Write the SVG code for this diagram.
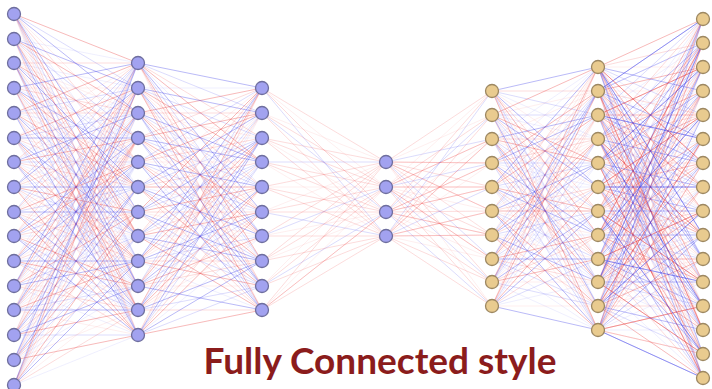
<svg xmlns="http://www.w3.org/2000/svg" width="712" height="389" viewBox="0 0 712 389">
<style>
.cn path{fill:none;stroke-width:1;stroke-linejoin:round}
.a{stroke:#e84040;stroke-opacity:.36}
.b{stroke:#4040e8;stroke-opacity:.36}
.c{stroke:#f05050;stroke-opacity:.2}
.d{stroke:#5050f0;stroke-opacity:.2}
.e{stroke:#f05050;stroke-opacity:.09}
.f{stroke:#5050f0;stroke-opacity:.09}
.p{fill:#a2a2f0;stroke:#6e6e9e;stroke-width:1.3}
.t{fill:#e9cb8f;stroke:#9d8862;stroke-width:1.3}
.title{font-family:Lato,"Liberation Sans",sans-serif;font-weight:700;font-size:37px;fill:#8b1c1c;text-anchor:middle}
</style>
<rect width="712" height="389" fill="#ffffff"/>
<g id="connectors" class="cn">
<path class="e" d="M138 138L14 14 138 335M138 310L14 39 138 212M138 212L14 63 138 113M138 88L14 88 138 286M138 261L14 113 138 162M138 162L14 138 138 63M138 335L14 162 138 236M138 113L14 187 138 310M138 236L14 212 138 138M138 63L14 236 138 261M138 187L14 261 138 88M138 286L14 286 138 187M138 335L14 310 138 236M138 212L14 335 138 113M138 113L14 360 138 310M138 286L14 385 138 187"/>
<path class="f" d="M138 187L14 14 138 310M138 63L14 39 138 187M138 261L14 63 138 88M138 138L14 88 138 261M138 310L14 113 138 138M138 212L14 138 138 335M138 88L14 162 138 212M138 162L14 187 138 286M138 286L14 212 138 113M138 113L14 236 138 236M138 236L14 261 138 63M138 335L14 286 138 162M138 88L14 310 138 212M138 261L14 335 138 88M138 162L14 360 138 286M138 335L14 385 138 162"/>
<path class="c" d="M138 162L14 14 138 286M138 335L14 39 138 162M138 236L14 63 138 63M138 113L14 88 138 236M138 286L14 113 138 113M138 187L14 138 138 310M138 63L14 162 138 187M138 138L14 187 138 261M138 261L14 212 138 88M138 88L14 236 138 212M138 212L14 261 138 335M138 310L14 286 138 138M138 63L14 310 138 187M138 236L14 335 138 63M138 138L14 360 138 261M138 310L14 385 138 138"/>
<path class="d" d="M138 88L14 14 138 261M138 261L14 39 138 138M138 162L14 63 138 335M138 335L14 88 138 212M138 212L14 113 138 88M138 113L14 138 138 286M138 286L14 162 138 162M138 63L14 187 138 236M138 187L14 212 138 63M138 310L14 236 138 187M138 138L14 261 138 310M138 236L14 286 138 113M138 286L14 310 138 162M138 162L14 335 138 335M138 63L14 360 138 236M138 236L14 385 138 113"/>
<path class="a" d="M138 63L14 14 138 236M138 236L14 39 138 113M138 138L14 63 138 310M138 310L14 88 138 187M138 187L14 113 138 63M138 88L14 138 138 261M138 261L14 162 138 138M138 335L14 187 138 212M138 162L14 212 138 335M138 286L14 236 138 162M138 113L14 261 138 286M138 212L14 286 138 88M138 261L14 310 138 138M138 138L14 335 138 310M138 335L14 360 138 212M138 212L14 385 138 88"/>
<path class="b" d="M138 113L14 14 138 212M138 286L14 39 138 88M138 187L14 63 138 286M138 63L14 88 138 162M138 236L14 113 138 335M138 138L14 138 138 236M138 310L14 162 138 113M138 88L14 187 138 187M138 212L14 212 138 310M138 335L14 236 138 138M138 162L14 261 138 261M138 261L14 286 138 63M138 310L14 310 138 113M138 187L14 335 138 286M138 88L14 360 138 187M138 261L14 385 138 63"/>
<path class="e" d="M138 63L262 310M138 88L262 212M138 113L262 138M138 138L262 261M138 162L262 162M138 187L262 88M138 212L262 236M138 236L262 113M138 261L262 187M138 286L262 286M138 310L262 236M138 335L262 113"/>
<path class="f" d="M138 63L262 187M138 88L262 88M138 113L262 261M138 138L262 138M138 162L262 286M138 187L262 212M138 212L262 113M138 236L262 236M138 261L262 310M138 286L262 162M138 310L262 113M138 335L262 236"/>
<path class="c" d="M262 286L138 63 262 138M262 187L138 88 262 286M262 113L138 113 262 212M262 236L138 138 262 88M262 138L138 162 262 236M262 310L138 187 262 162M262 212L138 212 262 310M262 88L138 236 262 187M262 162L138 261 262 261M262 261L138 286 262 113M262 212L138 310 262 310M262 88L138 335 262 187"/>
<path class="d" d="M262 113L138 63 262 236M262 261L138 88 262 138M262 187L138 113 262 310M262 310L138 138 262 187M262 212L138 162 262 88M262 138L138 187 262 261M262 286L138 212 262 162M262 162L138 236 262 286M262 236L138 261 262 113M262 88L138 286 262 212M262 286L138 310 262 162M262 162L138 335 262 286"/>
<path class="a" d="M262 261L138 63 262 162M262 162L138 88 262 310M262 88L138 113 262 236M262 212L138 138 262 113M262 113L138 162 262 261M262 286L138 187 262 187M262 187L138 212 262 88M262 310L138 236 262 212M262 138L138 261 262 286M262 236L138 286 262 138M262 187L138 310 262 88M262 310L138 335 262 212"/>
<path class="b" d="M262 88L138 63 262 212M262 236L138 88 262 113M262 162L138 113 262 286M262 286L138 138 262 162M262 187L138 162 262 310M262 113L138 187 262 236M262 261L138 212 262 138M262 138L138 236 262 261M262 212L138 261 262 88M262 310L138 286 262 187M262 261L138 310 262 138M262 138L138 335 262 261"/>
<path class="e" d="M262 88L386 187M262 113L386 162M262 138L386 212M262 162L386 236M262 187L386 187M262 212L386 162M262 236L386 212M262 261L386 212M262 286L386 162M262 310L386 187"/>
<path class="c" d="M386 162L262 88 386 212M386 187L262 113 386 236M386 162L262 138 386 236M386 187L262 162 386 212M386 162L262 187 386 236M386 187L262 212 386 212M386 162L262 236 386 236M386 162L262 261 386 187M386 187L262 286 386 236M386 162L262 310 386 212 262 310 386 236M262 138L386 187M262 187L386 212M262 261L386 236"/>
<path class="d" d="M262 88L386 236M262 113L386 212M262 162L386 162M262 212L386 236M262 236L386 187M262 286L386 212"/>
<path class="e" d="M492 115L386 162 492 235 386 162 492 306M492 91L386 187 492 211M492 139L386 212 492 259M492 163L386 236 492 259"/>
<path class="c" d="M492 91L386 162 492 163 386 162 492 211 386 162 492 282M492 115L386 187 492 139 386 187 492 187 386 187 492 259 386 187 492 306M492 91L386 212 492 163 386 212 492 187 386 212 492 235 386 212 492 282M492 115L386 236 492 139 386 236 492 211 386 236 492 235 386 236 492 306M386 162L492 187M386 187L492 235M386 212L492 211M386 236L492 282"/>
<path class="d" d="M492 139L386 162 492 259M492 163L386 187 492 282M492 115L386 212 492 306M492 91L386 236 492 187"/>
<path class="e" d="M598 259L492 91 598 163M598 91L492 115 598 282M598 187L492 139 598 91M598 306L492 163 598 211M598 139L492 187 598 330M598 235L492 211 598 139M598 67L492 235 598 259M598 163L492 259 598 67M598 282L492 282 598 187M598 115L492 306 598 306"/>
<path class="f" d="M598 306L492 91 598 139M598 139L492 115 598 259M598 235L492 139 598 67M598 67L492 163 598 187M598 187L492 187 598 306M598 282L492 211 598 115M598 115L492 235 598 235M598 211L492 259 598 330M598 330L492 282 598 163M598 163L492 306 598 282"/>
<path class="c" d="M598 211L492 91 598 91M598 330L492 115 598 211M598 139L492 139 598 306M598 259L492 163 598 139M598 91L492 187 598 259M598 187L492 211 598 67M598 306L492 235 598 187M598 115L492 259 598 282M598 235L492 282 598 115M598 67L492 306 598 235"/>
<path class="d" d="M598 282L492 91 598 115M598 115L492 115 598 235M598 211L492 139 598 330M598 330L492 163 598 163M598 163L492 187 598 282M598 259L492 211 598 91M598 91L492 235 598 211M598 187L492 259 598 306M598 306L492 282 598 139M598 139L492 306 598 259"/>
<path class="a" d="M598 235L492 91 598 330M598 67L492 115 598 163M598 163L492 139 598 259M598 282L492 163 598 91M598 115L492 187 598 211M598 211L492 211 598 306M598 330L492 235 598 139M598 139L492 259 598 235M598 259L492 282 598 67M598 91L492 306 598 187"/>
<path class="b" d="M598 187L492 91 598 67M598 306L492 115 598 187M598 115L492 139 598 282M598 235L492 163 598 115M598 67L492 187 598 235M598 163L492 211 598 330M598 282L492 235 598 163M598 91L492 259 598 259M598 211L492 282 598 91M598 330L492 306 598 211"/>
<path class="e" d="M703 67L598 67 703 306M703 235L598 91 703 91M703 354L598 115 703 211M703 139L598 139 703 378M703 282L598 163 703 139M703 19L598 187 703 259M703 187L598 211 703 43M703 330L598 235 703 187M703 115L598 259 703 354M703 259L598 282 703 115M703 43L598 306 703 282M703 211L598 330 703 67"/>
<path class="f" d="M703 139L598 67 703 187M703 306L598 91 703 354M703 43L598 115 703 91M703 211L598 139 703 259M703 354L598 163 703 19M703 91L598 187 703 139M703 259L598 211 703 306M703 19L598 235 703 67M703 187L598 259 703 235M703 330L598 282 703 378M703 115L598 306 703 163M703 282L598 330 703 330"/>
<path class="c" d="M703 43L598 67 703 211 598 67 703 330M703 211L598 91 703 378 598 91 703 115M703 330L598 115 703 115 598 115 703 235M703 115L598 139 703 282 598 139 703 19M703 259L598 163 703 43 598 163 703 163M703 378L598 187 703 163 598 187 703 282M703 163L598 211 703 330 598 211 703 67M703 306L598 235 703 91 598 235 703 211M703 91L598 259 703 259 598 259 703 378M703 235L598 282 703 19 598 282 703 139M703 19L598 306 703 187 598 306 703 306M703 187L598 330 703 354 598 330 703 91"/>
<path class="d" d="M703 115L598 67 703 259 598 67 703 378M703 282L598 91 703 43 598 91 703 163M703 19L598 115 703 163 598 115 703 282M703 187L598 139 703 330 598 139 703 67M703 330L598 163 703 91 598 163 703 211M703 67L598 187 703 211 598 187 703 330M703 235L598 211 703 378 598 211 703 115M703 378L598 235 703 139 598 235 703 259M703 163L598 259 703 306 598 259 703 43M703 306L598 282 703 67 598 282 703 187M703 91L598 306 703 235 598 306 703 354M703 259L598 330 703 19 598 330 703 139"/>
<path class="a" d="M703 19L598 67 703 163 598 67 703 282M703 187L598 91 703 330 598 91 703 67M703 306L598 115 703 67 598 115 703 187M703 91L598 139 703 235 598 139 703 354M703 235L598 163 703 378 598 163 703 115M703 354L598 187 703 115 598 187 703 235M703 139L598 211 703 282 598 211 703 19M703 282L598 235 703 43 598 235 703 163M703 67L598 259 703 211 598 259 703 330M703 211L598 282 703 354 598 282 703 91M703 378L598 306 703 139 598 306 703 259M703 163L598 330 703 306 598 330 703 43"/>
<path class="b" d="M703 91L598 67 703 235 598 67 703 354M703 259L598 91 703 19 598 91 703 139M703 378L598 115 703 139 598 115 703 259M703 163L598 139 703 306 598 139 703 43M703 306L598 163 703 67 598 163 703 187M703 43L598 187 703 187 598 187 703 306M703 211L598 211 703 354 598 211 703 91M703 354L598 235 703 115 598 235 703 235M703 139L598 259 703 282 598 259 703 19M703 282L598 282 703 43 598 282 703 163M703 67L598 306 703 211 598 306 703 330M703 235L598 330 703 378 598 330 703 115"/>
</g>
<g id="layer1">
<g id="n1_1"><circle class="p" cx="14" cy="14" r="6.5"/></g>
<g id="n1_2"><circle class="p" cx="14" cy="39" r="6.5"/></g>
<g id="n1_3"><circle class="p" cx="14" cy="63" r="6.5"/></g>
<g id="n1_4"><circle class="p" cx="14" cy="88" r="6.5"/></g>
<g id="n1_5"><circle class="p" cx="14" cy="113" r="6.5"/></g>
<g id="n1_6"><circle class="p" cx="14" cy="138" r="6.5"/></g>
<g id="n1_7"><circle class="p" cx="14" cy="162" r="6.5"/></g>
<g id="n1_8"><circle class="p" cx="14" cy="187" r="6.5"/></g>
<g id="n1_9"><circle class="p" cx="14" cy="212" r="6.5"/></g>
<g id="n1_10"><circle class="p" cx="14" cy="236" r="6.5"/></g>
<g id="n1_11"><circle class="p" cx="14" cy="261" r="6.5"/></g>
<g id="n1_12"><circle class="p" cx="14" cy="286" r="6.5"/></g>
<g id="n1_13"><circle class="p" cx="14" cy="310" r="6.5"/></g>
<g id="n1_14"><circle class="p" cx="14" cy="335" r="6.5"/></g>
<g id="n1_15"><circle class="p" cx="14" cy="360" r="6.5"/></g>
<g id="n1_16"><circle class="p" cx="14" cy="385" r="6.5"/></g>
</g>
<g id="layer2">
<g id="n2_1"><circle class="p" cx="138" cy="63" r="6.5"/></g>
<g id="n2_2"><circle class="p" cx="138" cy="88" r="6.5"/></g>
<g id="n2_3"><circle class="p" cx="138" cy="113" r="6.5"/></g>
<g id="n2_4"><circle class="p" cx="138" cy="138" r="6.5"/></g>
<g id="n2_5"><circle class="p" cx="138" cy="162" r="6.5"/></g>
<g id="n2_6"><circle class="p" cx="138" cy="187" r="6.5"/></g>
<g id="n2_7"><circle class="p" cx="138" cy="212" r="6.5"/></g>
<g id="n2_8"><circle class="p" cx="138" cy="236" r="6.5"/></g>
<g id="n2_9"><circle class="p" cx="138" cy="261" r="6.5"/></g>
<g id="n2_10"><circle class="p" cx="138" cy="286" r="6.5"/></g>
<g id="n2_11"><circle class="p" cx="138" cy="310" r="6.5"/></g>
<g id="n2_12"><circle class="p" cx="138" cy="335" r="6.5"/></g>
</g>
<g id="layer3">
<g id="n3_1"><circle class="p" cx="262" cy="88" r="6.5"/></g>
<g id="n3_2"><circle class="p" cx="262" cy="113" r="6.5"/></g>
<g id="n3_3"><circle class="p" cx="262" cy="138" r="6.5"/></g>
<g id="n3_4"><circle class="p" cx="262" cy="162" r="6.5"/></g>
<g id="n3_5"><circle class="p" cx="262" cy="187" r="6.5"/></g>
<g id="n3_6"><circle class="p" cx="262" cy="212" r="6.5"/></g>
<g id="n3_7"><circle class="p" cx="262" cy="236" r="6.5"/></g>
<g id="n3_8"><circle class="p" cx="262" cy="261" r="6.5"/></g>
<g id="n3_9"><circle class="p" cx="262" cy="286" r="6.5"/></g>
<g id="n3_10"><circle class="p" cx="262" cy="310" r="6.5"/></g>
</g>
<g id="layer4">
<g id="n4_1"><circle class="p" cx="386" cy="162" r="6.5"/></g>
<g id="n4_2"><circle class="p" cx="386" cy="187" r="6.5"/></g>
<g id="n4_3"><circle class="p" cx="386" cy="212" r="6.5"/></g>
<g id="n4_4"><circle class="p" cx="386" cy="236" r="6.5"/></g>
</g>
<g id="layer5">
<g id="n5_1"><circle class="t" cx="492" cy="91" r="6.5"/></g>
<g id="n5_2"><circle class="t" cx="492" cy="115" r="6.5"/></g>
<g id="n5_3"><circle class="t" cx="492" cy="139" r="6.5"/></g>
<g id="n5_4"><circle class="t" cx="492" cy="163" r="6.5"/></g>
<g id="n5_5"><circle class="t" cx="492" cy="187" r="6.5"/></g>
<g id="n5_6"><circle class="t" cx="492" cy="211" r="6.5"/></g>
<g id="n5_7"><circle class="t" cx="492" cy="235" r="6.5"/></g>
<g id="n5_8"><circle class="t" cx="492" cy="259" r="6.5"/></g>
<g id="n5_9"><circle class="t" cx="492" cy="282" r="6.5"/></g>
<g id="n5_10"><circle class="t" cx="492" cy="306" r="6.5"/></g>
</g>
<g id="layer6">
<g id="n6_1"><circle class="t" cx="598" cy="67" r="6.5"/></g>
<g id="n6_2"><circle class="t" cx="598" cy="91" r="6.5"/></g>
<g id="n6_3"><circle class="t" cx="598" cy="115" r="6.5"/></g>
<g id="n6_4"><circle class="t" cx="598" cy="139" r="6.5"/></g>
<g id="n6_5"><circle class="t" cx="598" cy="163" r="6.5"/></g>
<g id="n6_6"><circle class="t" cx="598" cy="187" r="6.5"/></g>
<g id="n6_7"><circle class="t" cx="598" cy="211" r="6.5"/></g>
<g id="n6_8"><circle class="t" cx="598" cy="235" r="6.5"/></g>
<g id="n6_9"><circle class="t" cx="598" cy="259" r="6.5"/></g>
<g id="n6_10"><circle class="t" cx="598" cy="282" r="6.5"/></g>
<g id="n6_11"><circle class="t" cx="598" cy="306" r="6.5"/></g>
<g id="n6_12"><circle class="t" cx="598" cy="330" r="6.5"/></g>
</g>
<g id="layer7">
<g id="n7_1"><circle class="t" cx="703" cy="19" r="6.5"/></g>
<g id="n7_2"><circle class="t" cx="703" cy="43" r="6.5"/></g>
<g id="n7_3"><circle class="t" cx="703" cy="67" r="6.5"/></g>
<g id="n7_4"><circle class="t" cx="703" cy="91" r="6.5"/></g>
<g id="n7_5"><circle class="t" cx="703" cy="115" r="6.5"/></g>
<g id="n7_6"><circle class="t" cx="703" cy="139" r="6.5"/></g>
<g id="n7_7"><circle class="t" cx="703" cy="163" r="6.5"/></g>
<g id="n7_8"><circle class="t" cx="703" cy="187" r="6.5"/></g>
<g id="n7_9"><circle class="t" cx="703" cy="211" r="6.5"/></g>
<g id="n7_10"><circle class="t" cx="703" cy="235" r="6.5"/></g>
<g id="n7_11"><circle class="t" cx="703" cy="259" r="6.5"/></g>
<g id="n7_12"><circle class="t" cx="703" cy="282" r="6.5"/></g>
<g id="n7_13"><circle class="t" cx="703" cy="306" r="6.5"/></g>
<g id="n7_14"><circle class="t" cx="703" cy="330" r="6.5"/></g>
<g id="n7_15"><circle class="t" cx="703" cy="354" r="6.5"/></g>
<g id="n7_16"><circle class="t" cx="703" cy="378" r="6.5"/></g>
</g>
<text class="title" x="380" y="374">Fully Connected style</text>
</svg>
